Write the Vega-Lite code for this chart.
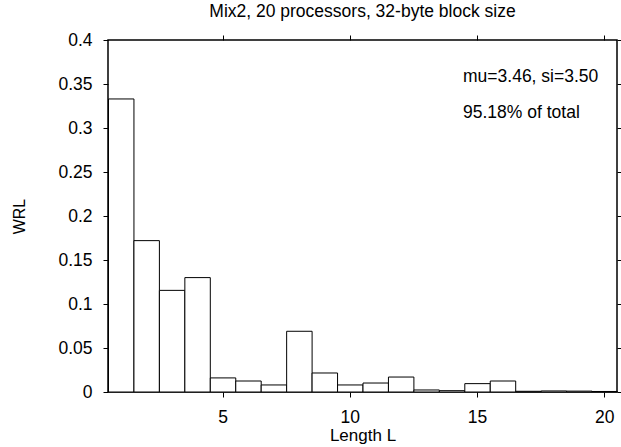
{
  "$schema": "https://vega.github.io/schema/vega-lite/v6.json",
  "autosize": "none",
  "width": 509,
  "height": 352,
  "padding": {"left": 108, "top": 40, "right": 4, "bottom": 55},
  "background": "white",
  "config": {
    "font": "Liberation Sans",
    "view": {"stroke": "black", "strokeWidth": 1.5},
    "axis": {"grid": false, "domain": false, "tickColor": "black", "tickSize": 5, "tickWidth": 1, "labelColor": "black", "titleColor": "black", "labelFont": "Liberation Sans", "titleFont": "Liberation Sans", "labelFontSize": 17.5, "titleFontSize": 17, "titleFontWeight": "normal"}
  },
  "title": {"text": "Mix2, 20 processors, 32-byte block size", "fontSize": 17.5, "fontWeight": "normal", "font": "Liberation Sans", "color": "black", "anchor": "middle", "frame": "group", "offset": 11},
  "layer": [
    {
      "data": {"values": [
        {"L": 1, "WRL": 0.333},
        {"L": 2, "WRL": 0.172},
        {"L": 3, "WRL": 0.1155},
        {"L": 4, "WRL": 0.130},
        {"L": 5, "WRL": 0.016},
        {"L": 6, "WRL": 0.0125},
        {"L": 7, "WRL": 0.008},
        {"L": 8, "WRL": 0.069},
        {"L": 9, "WRL": 0.0216},
        {"L": 10, "WRL": 0.008},
        {"L": 11, "WRL": 0.0102},
        {"L": 12, "WRL": 0.017},
        {"L": 13, "WRL": 0.0023},
        {"L": 14, "WRL": 0.0015},
        {"L": 15, "WRL": 0.0095},
        {"L": 16, "WRL": 0.0125},
        {"L": 17, "WRL": 0.0008},
        {"L": 18, "WRL": 0.0012},
        {"L": 19, "WRL": 0.001},
        {"L": 20, "WRL": 0.0006}
      ]},
      "mark": {"type": "bar", "fill": "white", "stroke": "black", "strokeWidth": 1, "binSpacing": 0},
      "encoding": {
        "x": {"field": "L", "type": "quantitative", "bin": {"step": 1, "extent": [0.5, 20.5], "nice": false},
          "scale": {"domain": [0.5, 20.5], "nice": false, "zero": false},
          "axis": {"orient": "bottom", "values": [5, 10, 15, 20], "format": "d", "title": "Length L", "labelPadding": 11, "titlePadding": 2}},
        "y": {"field": "WRL", "type": "quantitative", "aggregate": "sum",
          "scale": {"domain": [0, 0.4], "nice": false},
          "axis": {"orient": "left", "values": [0, 0.05, 0.1, 0.15, 0.2, 0.25, 0.3, 0.35, 0.4], "format": "~g", "title": "WRL", "titleFontSize": 16, "labelPadding": 11, "titlePadding": 30}}
      }
    },
    {
      "data": {"values": [{"label": "mu=3.46, si=3.50"}]},
      "mark": {"type": "text", "align": "left", "baseline": "alphabetic", "fontSize": 17.5, "color": "black"},
      "encoding": {
        "x": {"datum": 14.45, "type": "quantitative", "axis": {"orient": "top", "values": [5, 10, 15, 20], "labels": false, "title": null}},
        "y": {"datum": 0.3523, "type": "quantitative", "axis": {"orient": "right", "values": [0, 0.05, 0.1, 0.15, 0.2, 0.25, 0.3, 0.35, 0.4], "labels": false, "title": null}},
        "text": {"field": "label"}
      }
    },
    {
      "data": {"values": [{"label": "95.18% of total"}]},
      "mark": {"type": "text", "align": "left", "baseline": "alphabetic", "fontSize": 17.5, "color": "black"},
      "encoding": {
        "x": {"datum": 14.45, "type": "quantitative", "axis": null},
        "y": {"datum": 0.3118, "type": "quantitative", "axis": null},
        "text": {"field": "label"}
      }
    }
  ],
  "resolve": {"axis": {"x": "independent", "y": "independent"}}
}
